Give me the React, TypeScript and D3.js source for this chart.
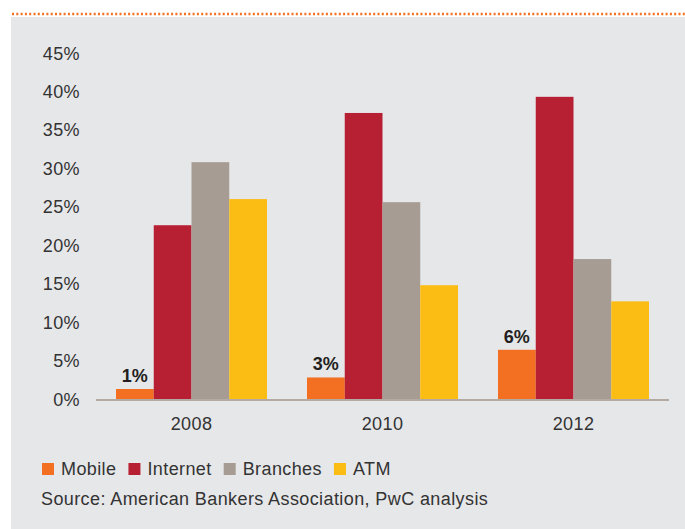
import * as d3 from "d3";
import React, { useEffect, useRef } from "react";

const years = ["2008", "2010", "2012"];
const channels = ["Mobile", "Internet", "Branches", "ATM"];
const mobile = [1.3, 2.8, 6.4];
const internet = [22.6, 37.2, 39.3];
const branches = [30.8, 25.6, 18.2];
const atm = [26.0, 14.8, 12.7];
const mobileLabels = ["1%", "3%", "6%"];
const yTicks = [0, 5, 10, 15, 20, 25, 30, 35, 40, 45];
const sourceText = "Source: American Bankers Association, PwC analysis";

const colors = ["#f36f21", "#b71f33", "#a69c93", "#fbbd13"];

const App: React.FC = () => {
  const svgRef = useRef<SVGSVGElement | null>(null);

  useEffect(() => {
    if (!svgRef.current) return;
    const svg = d3.select(svgRef.current);
    svg.selectAll("*").remove();

    const width = 685;
    const height = 529;
    const font = "'Liberation Sans', Arial, Helvetica, sans-serif";
    const spacing = "0.4px";
    const series = [mobile, internet, branches, atm];

    // panel + dotted rule
    svg
      .append("rect")
      .attr("x", 11)
      .attr("y", 17)
      .attr("width", width - 11)
      .attr("height", height - 17)
      .attr("fill", "#e6e7e9");

    svg
      .append("line")
      .attr("x1", 12)
      .attr("x2", width)
      .attr("y1", 14)
      .attr("y2", 14)
      .attr("stroke", "#f36f21")
      .attr("stroke-width", 2.5)
      .attr("stroke-dasharray", "2 2.3");

    // Scales
    const x0 = d3
      .scaleBand<string>()
      .domain(years)
      .range([96, 669])
      .paddingInner(0.2094)
      .paddingOuter(0.1047);

    const x1 = d3
      .scaleBand<string>()
      .domain(channels)
      .range([0, x0.bandwidth()]);

    const y = d3.scaleLinear().domain([0, 45]).range([399, 53]);

    // y tick labels
    svg
      .append("g")
      .selectAll("text")
      .data(yTicks)
      .enter()
      .append("text")
      .attr("x", 80)
      .attr("y", (d) => y(d) + 6.5)
      .attr("text-anchor", "end")
      .attr("font-family", font)
      .attr("font-size", "18px")
      .attr("letter-spacing", spacing)
      .attr("fill", "#333")
      .text((d) => `${d}%`);

    // bars
    const groups = svg
      .append("g")
      .selectAll("g")
      .data(years)
      .enter()
      .append("g")
      .attr("transform", (d) => `translate(${x0(d)},0)`);

    groups
      .selectAll("rect")
      .data((_, i) => channels.map((c, k) => ({ c, k, v: series[k][i] })))
      .enter()
      .append("rect")
      .attr("x", (d) => x1(d.c)!)
      .attr("width", x1.bandwidth())
      .attr("y", (d) => y(d.v))
      .attr("height", (d) => y(0) - y(d.v))
      .attr("fill", (d) => colors[d.k]);

    // value labels on mobile bars
    groups
      .append("text")
      .attr("x", x1("Mobile")! + x1.bandwidth() / 2)
      .attr("y", (_, i) => y(mobile[i]) - 7)
      .attr("text-anchor", "middle")
      .attr("font-family", font)
      .attr("font-size", "18px")
      .attr("font-weight", "bold")
      .attr("fill", "#231f20")
      .text((_, i) => mobileLabels[i]);

    // x axis line
    svg
      .append("line")
      .attr("x1", 96)
      .attr("x2", 669)
      .attr("y1", 400)
      .attr("y2", 400)
      .attr("stroke", "#b3aaa3")
      .attr("stroke-width", 2);

    svg
      .append("g")
      .selectAll("text")
      .data(years)
      .enter()
      .append("text")
      .attr("x", (d) => x0(d)! + x0.bandwidth() / 2)
      .attr("y", 430)
      .attr("text-anchor", "middle")
      .attr("font-family", font)
      .attr("font-size", "18px")
      .attr("letter-spacing", spacing)
      .attr("fill", "#333")
      .text((d) => d);

    // legend
    const legend = svg.append("g");
    let lx = 42;
    channels.forEach((c, k) => {
      legend
        .append("rect")
        .attr("x", lx)
        .attr("y", 463)
        .attr("width", 12)
        .attr("height", 12)
        .attr("fill", colors[k]);
      const t = legend
        .append("text")
        .attr("x", lx + 19)
        .attr("y", 475)
        .attr("font-family", font)
        .attr("font-size", "18px")
        .attr("letter-spacing", spacing)
        .attr("fill", "#333")
        .text(c);
      const w = (t.node() as SVGTextElement).getComputedTextLength();
      lx = lx + 19 + w + 12;
    });

    svg
      .append("text")
      .attr("x", 41)
      .attr("y", 505)
      .attr("font-family", font)
      .attr("font-size", "18px")
      .attr("letter-spacing", spacing)
      .attr("fill", "#333")
      .text(sourceText);
  }, []);

  return (
    <div style={{ position: "absolute", left: 0, top: 0 }}>
      <svg ref={svgRef} width={685} height={529} style={{ display: "block", background: "#fff" }}></svg>
    </div>
  );
};

export default App;
